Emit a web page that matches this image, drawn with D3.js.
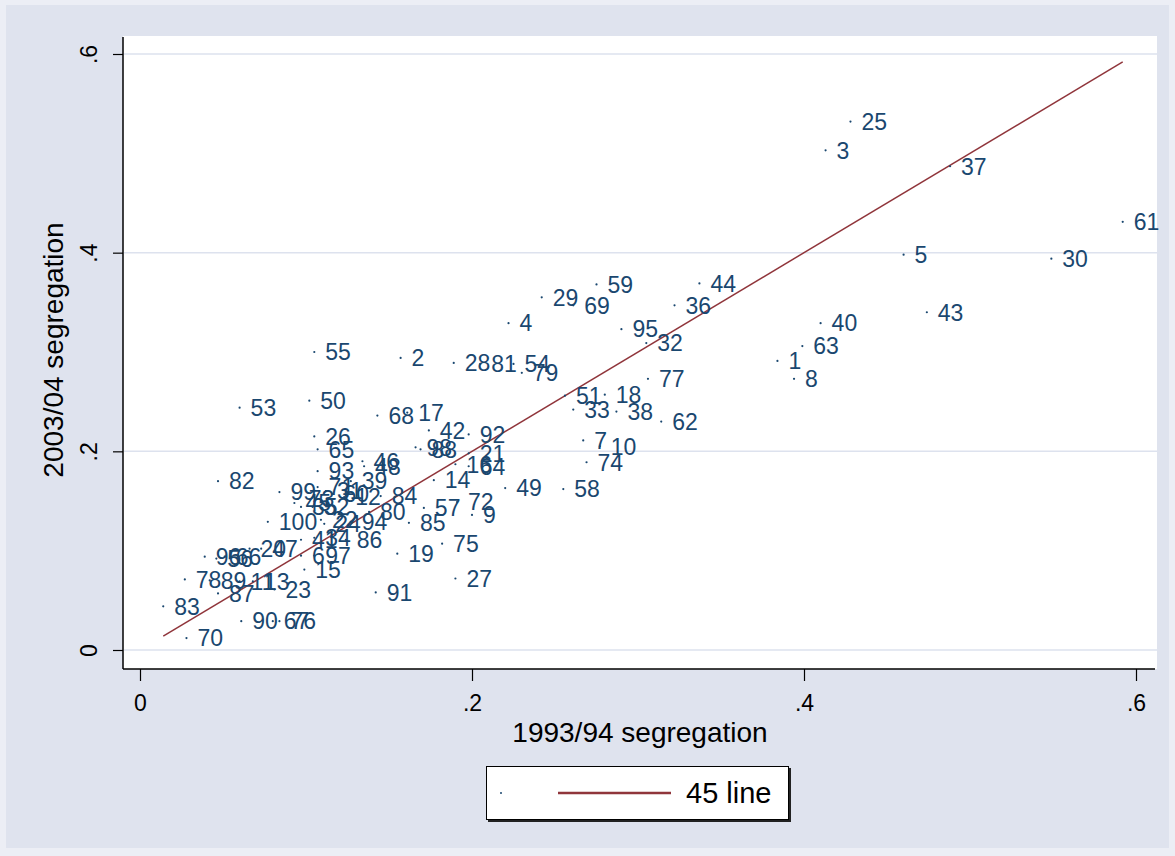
<!DOCTYPE html>
<html>
<head>
<meta charset="utf-8">
<script src="https://cdn.jsdelivr.net/npm/d3@7"></script>
<style>
  html, body { margin: 0; padding: 0; background: #eceef5; }
  svg { display: block; }
  text { font-family: "Liberation Sans", Arial, Helvetica, sans-serif; }
</style>
</head>
<body>
<svg id="chart" width="1175" height="856"></svg>
<script>
// ---- data ----
const ids = d3.range(1, 101).map(String);
const seg9394 = [
  0.384,0.157,0.413,0.222,0.460,0.097,0.267,0.394,0.200,0.277,
  0.060,0.123,0.068,0.177,0.099,0.190,0.161,0.280,0.155,0.066,
  0.198,0.109,0.081,0.111,0.428,0.105,0.190,0.189,0.242,0.549,
  0.112,0.305,0.261,0.105,0.097,0.322,0.488,0.287,0.127,0.410,
  0.097,0.174,0.474,0.337,0.093,0.134,0.073,0.135,0.220,0.102,
  0.256,0.104,0.060,0.225,0.105,0.046,0.171,0.255,0.275,0.116,
  0.592,0.314,0.399,0.198,0.107,0.051,0.080,0.143,0.261,0.028,
  0.107,0.191,0.095,0.269,0.182,0.084,0.306,0.027,0.230,0.138,
  0.205,0.047,0.014,0.145,0.162,0.124,0.047,0.169,0.042,0.061,
  0.142,0.198,0.107,0.127,0.290,0.039,0.105,0.166,0.084,0.077
];
const seg0304 = [
  0.291,0.294,0.503,0.329,0.398,0.095,0.211,0.273,0.136,0.205,
  0.069,0.154,0.069,0.171,0.081,0.187,0.239,0.257,0.097,0.102,
  0.198,0.131,0.061,0.127,0.532,0.215,0.072,0.289,0.355,0.394,
  0.160,0.309,0.242,0.113,0.144,0.347,0.487,0.240,0.170,0.329,
  0.111,0.221,0.340,0.369,0.148,0.190,0.102,0.185,0.163,0.251,
  0.256,0.144,0.244,0.288,0.300,0.092,0.143,0.162,0.368,0.157,
  0.431,0.230,0.306,0.185,0.202,0.094,0.029,0.236,0.347,0.012,
  0.164,0.149,0.152,0.189,0.107,0.029,0.273,0.071,0.279,0.139,
  0.288,0.170,0.044,0.155,0.128,0.111,0.057,0.202,0.070,0.029,
  0.058,0.217,0.180,0.129,0.323,0.094,0.095,0.204,0.159,0.129
];
const xTicks = [0, 0.2, 0.4, 0.6];
const yTicks = [0, 0.2, 0.4, 0.6];
const tickLabel = d => d === 0 ? "0" : d3.format(".1f")(d).replace(/^0/, "");
const xTitle = "1993/94 segregation";
const yTitle = "2003/04 segregation";
const legendLabel = "45 line";

// ---- styles ----
const navy = "#1a476f";
const maroon = "#90353b";
const bg = "#dfe3ee";

const svg = d3.select("#chart");
const W = 1175, H = 856;
const plot = { left: 123, right: 1157, top: 36, bottom: 669 };

svg.append("rect").attr("width", W).attr("height", H).attr("fill", "#eceef5");
svg.append("rect").attr("x", 6).attr("y", 5).attr("width", 1163).attr("height", 843).attr("fill", bg);
svg.append("rect").attr("x", plot.left).attr("y", plot.top)
  .attr("width", plot.right - plot.left).attr("height", plot.bottom - plot.top).attr("fill", "#ffffff");

const x = d3.scaleLinear().domain([0, 0.6]).range([140, 1136]);
const y = d3.scaleLinear().domain([0, 0.6]).range([650, 54]);

// grid
svg.append("g").selectAll("line").data(yTicks).join("line")
  .attr("x1", plot.left + 1).attr("x2", plot.right)
  .attr("y1", d => y(d)).attr("y2", d => y(d))
  .attr("stroke", "#dde2ee").attr("stroke-width", 1.5);

const data = ids.map((id, i) => ({ id, x: seg9394[i], y: seg0304[i] }));

// 45 line
const ext = d3.extent(seg9394);
svg.append("path")
  .attr("d", d3.line().x(d => x(d)).y(d => y(d))(ext))
  .attr("fill", "none").attr("stroke", maroon).attr("stroke-width", 1.5);

// points + labels
const gp = svg.append("g");
gp.selectAll("circle").data(data).join("circle")
  .attr("cx", d => x(d.x)).attr("cy", d => y(d.y)).attr("r", 1.1).attr("fill", navy);
gp.selectAll("text").data(data).join("text")
  .attr("x", d => x(d.x) + 11).attr("y", d => y(d.y)).attr("dy", "0.36em")
  .attr("font-size", 23).attr("fill", navy).text(d => d.id);

// axes
const gy = svg.append("g").attr("transform", `translate(${plot.left},0)`)
  .call(d3.axisLeft(y).tickValues(yTicks).tickSize(10).tickFormat(tickLabel));
gy.select(".domain").remove();
gy.selectAll(".tick line").attr("stroke", "#000").attr("stroke-width", 1.2);
gy.selectAll(".tick text")
  .attr("x", null).attr("dy", null).attr("y", null)
  .attr("transform", "translate(-26,0) rotate(-90)")
  .attr("text-anchor", "middle").attr("font-size", 23).attr("fill", "#000")
  .attr("font-family", "Liberation Sans, Arial, sans-serif");
svg.append("line").attr("x1", plot.left).attr("x2", plot.left)
  .attr("y1", plot.top + 1).attr("y2", plot.bottom).attr("stroke", "#000").attr("stroke-width", 1.5);

const gx = svg.append("g").attr("transform", `translate(0,${plot.bottom})`)
  .call(d3.axisBottom(x).tickValues(xTicks).tickSize(12).tickFormat(tickLabel));
gx.select(".domain").remove();
gx.selectAll(".tick line").attr("stroke", "#000").attr("stroke-width", 1.2);
gx.selectAll(".tick text").attr("y", 42).attr("dy", null)
  .attr("font-size", 23).attr("fill", "#000")
  .attr("font-family", "Liberation Sans, Arial, sans-serif");
svg.append("line").attr("x1", plot.left).attr("x2", plot.right - 2)
  .attr("y1", plot.bottom).attr("y2", plot.bottom).attr("stroke", "#000").attr("stroke-width", 1.5);

// titles
svg.append("text").attr("x", 640).attr("y", 742).attr("text-anchor", "middle")
  .attr("font-size", 28).attr("fill", "#000").text(xTitle);
svg.append("text").attr("transform", "translate(63,350) rotate(-90)").attr("text-anchor", "middle")
  .attr("font-size", 28).attr("fill", "#000").text(yTitle);

// legend
const lg = svg.append("g");
lg.append("rect").attr("x", 488).attr("y", 768).attr("width", 303).attr("height", 54).attr("fill", "#222");
lg.append("rect").attr("x", 486.5).attr("y", 766.5).attr("width", 302).attr("height", 53)
  .attr("fill", "#fff").attr("stroke", "#000").attr("stroke-width", 1);
lg.append("circle").attr("cx", 501).attr("cy", 793).attr("r", 1).attr("fill", navy);
lg.append("line").attr("x1", 558).attr("x2", 671).attr("y1", 793).attr("y2", 793)
  .attr("stroke", maroon).attr("stroke-width", 2.5);
lg.append("text").attr("x", 686).attr("y", 803).attr("font-size", 29).attr("fill", "#000").text(legendLabel);
</script>
</body>
</html>
